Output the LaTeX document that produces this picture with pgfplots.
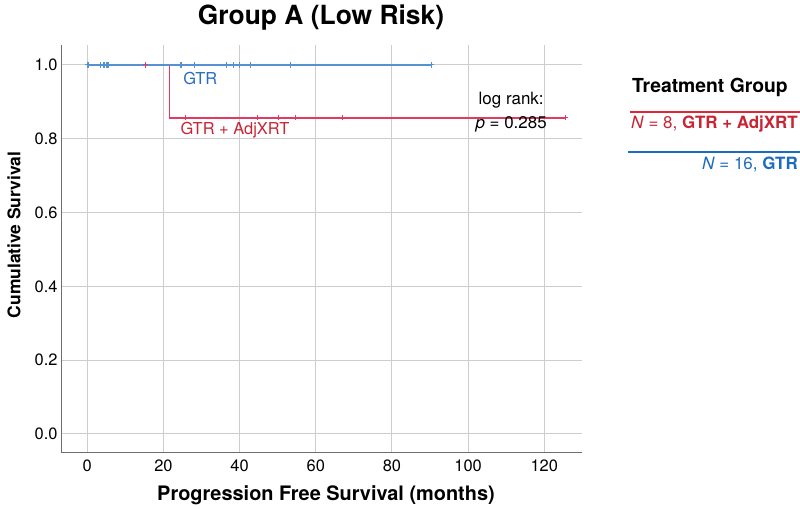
\documentclass[border=0pt]{standalone}
\usepackage{pgfplots}
\pgfplotsset{compat=1.18}
\usepackage{fontspec}
\setmainfont{TeX Gyre Heros}

\definecolor{gtrline}{RGB}{86,145,212}
\definecolor{adjline}{RGB}{226,58,96}
\definecolor{gtrtext}{RGB}{38,110,190}
\definecolor{adjtext}{RGB}{200,36,52}
\definecolor{leglred}{RGB}{222,38,52}
\definecolor{leglblue}{RGB}{28,108,190}
\definecolor{gridgrey}{RGB}{205,205,205}
\definecolor{axisgrey}{RGB}{110,110,110}

\begin{document}
\begin{tikzpicture}[x=1bp,y=1bp]
\useasboundingbox (0,0) rectangle (800,509);
\begin{axis}[
  at={(61bp,56bp)}, anchor=south west,
  scale only axis, width=521bp, height=408bp,
  xmin=-6.9, xmax=129.9, ymin=-0.0515, ymax=1.054,
  axis x line*=bottom, axis y line*=left,
  axis line style={draw=axisgrey, line width=1bp},
  grid=major, grid style={draw=gridgrey, line width=1bp},
  major tick length=0pt,
  xtick={0,20,...,120}, ytick={0,0.2,0.4,0.6,0.8,1.0},
  /pgf/number format/assume math mode=true,
  yticklabel style={/pgf/number format/fixed, /pgf/number format/fixed zerofill, /pgf/number format/precision=1},
  xticklabel style={yshift=-3bp},
  tick label style={font=\fontsize{16.5}{19}\selectfont},
  clip=false,
]
% GTR + AdjXRT (N = 8)
\addplot[color=adjline, line width=1.8bp, mark=none, const plot] coordinates {(0,1) (21.6,0.8571) (125.6,0.8571)};
\addplot[color=adjline, only marks, mark=+, mark size=2.8bp, mark options={line width=1.1bp}] coordinates {
  (15.3,1) (25.8,0.8571) (44.8,0.8571) (50.3,0.8571) (54.7,0.8571) (67.1,0.8571) (125.6,0.8571)
};
% GTR (N = 16)
\addplot[color=gtrline, line width=1.6bp, mark=none] coordinates {(0,1) (90.4,1)};
\addplot[color=gtrline, only marks, mark=+, mark size=2.8bp, mark options={line width=1.1bp}] coordinates {
  (0.1,1) (0.3,1) (3.5,1) (4.4,1) (5.0,1) (5.3,1) (5.6,1) (24.6,1)
  (28.2,1) (36.5,1) (38.5,1) (40.0,1) (42.9,1) (53.3,1) (90.4,1) (0.2,1)
};
\node[anchor=west, text=gtrtext, font=\fontsize{16.5}{19}\selectfont] at (axis cs:24.3,0.962) {GTR};
\node[anchor=center, text=adjtext, font=\fontsize{16.5}{19}\selectfont] at (axis cs:38.8,0.822) {GTR + AdjXRT};
\node[anchor=center, font=\fontsize{17}{20}\selectfont] at (axis cs:111.3,0.905) {log rank:};
\node[anchor=center, font=\fontsize{17}{20}\selectfont] at (axis cs:111.3,0.84) {\textit{p} = 0.285};
\end{axis}
% titles and axis labels
\node[font=\fontsize{26.5}{30}\selectfont\bfseries] at (321,491) {Group A (Low Risk)};
\node[font=\fontsize{20}{23}\selectfont\bfseries] at (326,14) {Progression Free Survival (months)};
\node[font=\fontsize{17.5}{21}\selectfont\bfseries, rotate=90] at (14,274) {Cumulative Survival};
% legend
\node[font=\fontsize{19.4}{22}\selectfont\bfseries] at (710,422) {Treatment Group};
\draw[leglred, line width=2.6bp] (630,397) -- (800,397);
\node[anchor=east, text=adjtext, font=\fontsize{17}{20}\selectfont, inner sep=1bp] at (799,385) {\textit{N} = 8, \textbf{GTR + AdjXRT}};
\draw[leglblue, line width=2.6bp] (628,357) -- (800,357);
\node[anchor=east, text=leglblue, font=\fontsize{17}{20}\selectfont, inner sep=1bp] at (799,345) {\textit{N} = 16, \textbf{GTR}};
\end{tikzpicture}
\end{document}
